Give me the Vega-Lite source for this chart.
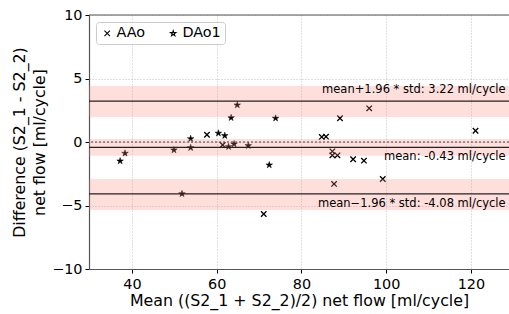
{
  "$schema": "https://vega.github.io/schema/vega-lite/v6.json",
  "width": 420,
  "height": 254,
  "autosize": "none",
  "padding": {"left": 89, "top": 15, "right": 0, "bottom": 45},
  "background": "white",
  "config": {
    "view": {"stroke": null},
    "font": "DejaVu Sans",
    "axis": {
      "labelFont": "DejaVu Sans", "titleFont": "DejaVu Sans",
      "labelFontSize": 14.4, "titleFontSize": 15.8, "titleFontWeight": "normal",
      "labelColor": "black", "titleColor": "black",
      "tickColor": "black", "tickSize": 4, "domainColor": "#555", "domainWidth": 1.2,
      "gridColor": "#b0b0b0", "gridDash": [1, 2], "gridWidth": 0.8
    },
    "legend": {
      "labelFont": "DejaVu Sans", "labelFontSize": 14.4, "labelColor": "black"
    }
  },
  "datasets": {
    "pts": [
      {"series": "DAo1", "mean": 37.2, "diff": -1.5},
      {"series": "DAo1", "mean": 38.35, "diff": -0.89},
      {"series": "DAo1", "mean": 49.9, "diff": -0.63},
      {"series": "DAo1", "mean": 51.8, "diff": -4.08},
      {"series": "DAo1", "mean": 53.85, "diff": 0.26},
      {"series": "DAo1", "mean": 53.85, "diff": -0.45},
      {"series": "DAo1", "mean": 60.4, "diff": 0.69},
      {"series": "DAo1", "mean": 61.9, "diff": 0.5},
      {"series": "DAo1", "mean": 62.8, "diff": -0.37},
      {"series": "DAo1", "mean": 64.1, "diff": -0.16},
      {"series": "DAo1", "mean": 63.4, "diff": 1.91},
      {"series": "DAo1", "mean": 64.85, "diff": 2.91},
      {"series": "DAo1", "mean": 67.45, "diff": -0.29},
      {"series": "DAo1", "mean": 72.4, "diff": -1.81},
      {"series": "DAo1", "mean": 73.9, "diff": 1.87},
      {"series": "AAo", "mean": 57.7, "diff": 0.57},
      {"series": "AAo", "mean": 61.4, "diff": -0.24},
      {"series": "AAo", "mean": 71.1, "diff": -5.67},
      {"series": "AAo", "mean": 84.8, "diff": 0.4},
      {"series": "AAo", "mean": 85.8, "diff": 0.42},
      {"series": "AAo", "mean": 87.3, "diff": -0.74},
      {"series": "AAo", "mean": 87.3, "diff": -1.05},
      {"series": "AAo", "mean": 88.5, "diff": -1.05},
      {"series": "AAo", "mean": 89.1, "diff": 1.87},
      {"series": "AAo", "mean": 92.2, "diff": -1.36},
      {"series": "AAo", "mean": 94.75, "diff": -1.47},
      {"series": "AAo", "mean": 96.0, "diff": 2.65},
      {"series": "AAo", "mean": 87.7, "diff": -3.3},
      {"series": "AAo", "mean": 99.2, "diff": -2.91},
      {"series": "AAo", "mean": 121.1, "diff": 0.89}
    ],
    "bands": [
      {"lo": 1.97, "hi": 4.41},
      {"lo": -1.08, "hi": 0.24},
      {"lo": -5.35, "hi": -2.91}
    ],
    "lines": [
      {"v": 3.22}, {"v": -0.43}, {"v": -4.08}
    ],
    "labels": [
      {"label": "mean+1.96 * std: 3.22 ml/cycle", "x": 128.2, "y": 4.1},
      {"label": "mean: -0.43 ml/cycle", "x": 128.2, "y": -1.16},
      {"label": "mean\u22121.96 * std: -4.08 ml/cycle", "x": 128.2, "y": -4.88}
    ]
  },
  "encoding": {
    "x": {
      "field": "mean", "type": "quantitative",
      "scale": {"domain": [29.85, 129], "nice": false, "zero": false},
      "axis": {"values": [40, 60, 80, 100, 120], "title": "Mean ((S2_1 + S2_2)/2) net flow [ml/cycle]", "titlePadding": 3, "labelPadding": 4.5}
    },
    "y": {
      "field": "diff", "type": "quantitative",
      "scale": {"domain": [-10, 10], "nice": false},
      "axis": {"values": [-10, -5, 0, 5, 10], "title": ["Difference (S2_1 - S2_2)", "net flow [ml/cycle]"], "titlePadding": 4, "labelPadding": 3, "titleLineHeight": 20}
    }
  },
  "layer": [
    {
      "data": {"name": "pts"},
      "transform": [{"filter": "datum.series === 'AAo'"}],
      "mark": {"type": "point", "filled": false, "color": "black", "stroke": "black", "strokeWidth": 1.3, "opacity": 1, "size": 30},
      "encoding": {
        "shape": {
          "field": "series", "type": "nominal",
          "scale": {"domain": ["AAo", "DAo1"], "range": ["M-1,-1L1,1M-1,1L1,-1", "M0,-1L0.225,-0.309L0.951,-0.309L0.363,0.118L0.588,0.809L0,0.382L-0.588,0.809L-0.363,0.118L-0.951,-0.309L-0.225,-0.309Z"]},
          "legend": {
            "title": null, "orient": "top-left", "offset": 7, "direction": "horizontal",
            "fillColor": "white", "strokeColor": "#cccccc", "cornerRadius": 3, "padding": 4,
            "symbolStrokeColor": "black", "symbolFillColor": "black", "symbolStrokeWidth": 1.1,
            "symbolSize": 30, "columnPadding": 20, "labelOffset": 2
          }
        }
      }
    },
    {
      "data": {"name": "pts"},
      "transform": [{"filter": "datum.series === 'DAo1'"}],
      "mark": {"type": "point", "filled": false, "fill": "black", "color": "black", "stroke": "black", "strokeWidth": 0.5, "opacity": 1, "fillOpacity": 1, "size": 48},
      "encoding": {
        "shape": {"field": "series", "type": "nominal"}
      }
    },
    {
      "data": {"name": "bands"},
      "mark": {"type": "rect", "color": "#fa8072", "opacity": 0.25},
      "encoding": {
        "x": null,
        "y": {"field": "lo", "type": "quantitative"},
        "y2": {"field": "hi"}
      }
    },
    {
      "data": {"name": "lines"},
      "mark": {"type": "rule", "color": "#222", "strokeWidth": 1.3},
      "encoding": {"x": null, "y": {"field": "v", "type": "quantitative"}}
    },
    {
      "data": {"values": [{"v": 0}]},
      "mark": {"type": "rule", "color": "#444", "strokeWidth": 1.2, "strokeDash": [2, 2]},
      "encoding": {"x": null, "y": {"field": "v", "type": "quantitative"}}
    },
    {
      "data": {"values": [{"v": 10}]},
      "mark": {"type": "rule", "color": "#555", "strokeWidth": 1.2},
      "encoding": {"x": null, "y": {"field": "v", "type": "quantitative"}}
    },
    {
      "data": {"name": "labels"},
      "mark": {"type": "text", "align": "right", "baseline": "middle", "fontSize": 11.5, "font": "DejaVu Sans", "color": "black"},
      "encoding": {
        "x": {"field": "x", "type": "quantitative"},
        "y": {"field": "y", "type": "quantitative"},
        "text": {"field": "label"}
      }
    }
  ]
}
